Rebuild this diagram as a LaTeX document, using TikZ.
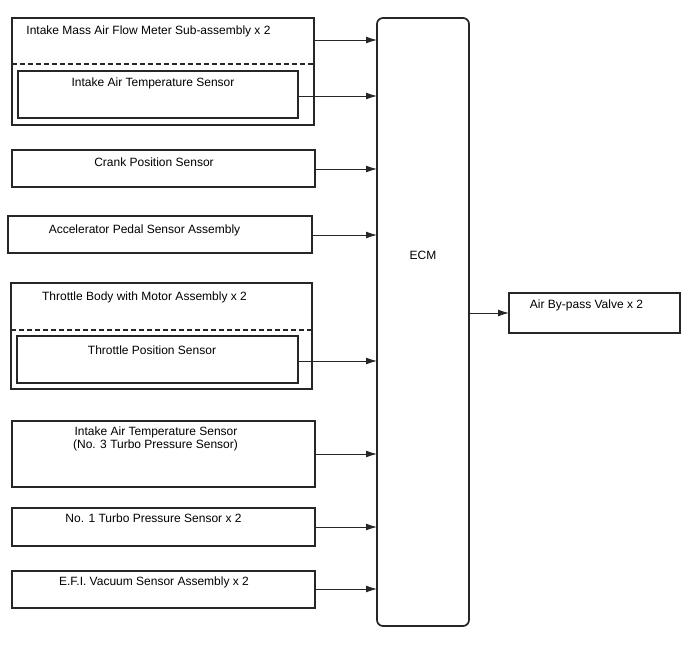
\documentclass[tikz,border=0pt]{standalone}
\usepackage{fontspec}
\setmainfont{Liberation Sans}
\usetikzlibrary{arrows.meta}
\begin{document}
\begin{tikzpicture}[x=1pt,y=-1pt,
  box/.style={draw=black!85,line width=1.5pt,rectangle,inner sep=0pt,outer sep=0pt,anchor=north west},
  lbl/.style={anchor=base,inner sep=0pt,font=\fontsize{12}{14.4}\selectfont},
  arr/.style={draw=black!85,line width=0.9pt,-{Latex[length=11pt,width=7pt]}},
  dsh/.style={draw=black!85,line width=1.4pt,dash pattern=on 5pt off 3pt}]
\useasboundingbox (0,0) rectangle (688,658);
\newcommand{\bx}[5]{\node[box,minimum width=#4pt-#2pt,minimum height=#5pt-#3pt] (#1) at (#2,#3) {};}
% boxes
\bx{maf}{12}{18}{314}{125}
\bx{iat}{18}{71}{298}{118}
\bx{ckp}{12}{150}{315}{187}
\bx{acc}{8}{216}{312}{253}
\bx{thr}{11}{283}{312}{389}
\bx{tps}{17}{336}{298}{383}
\bx{iat3}{12}{421}{315}{487}
\bx{tp1}{12}{508}{315}{546}
\bx{efi}{12}{571}{315}{608}
\bx{abv}{509}{293}{680}{333}
\node[box,line width=1.7pt,rounded corners=6pt,minimum width=92pt,minimum height=608pt] (ecm) at (377,18) {};
% dashed separators
\coordinate (d1) at (12,64);
\coordinate (d2) at (11,330);
\draw[dsh] (d1) -- (d1 -| maf.east);
\draw[dsh] (d2) -- (d2 -| thr.east);
% labels
\node[lbl] (tmaf) at (148.5,35) {Intake Mass Air Flow Meter Sub-assembly x 2};
\node[lbl] (tiat) at (153,87) {Intake Air Temperature Sensor};
\node[lbl] (tckp) at (154,166.5) {Crank Position Sensor};
\node[lbl] (tacc) at (144.5,233) {Accelerator Pedal Sensor Assembly};
\node[lbl] (tthr) at (144.5,300) {Throttle Body with Motor Assembly x 2};
\node[lbl] (ttps) at (152,354.5) {Throttle Position Sensor};
\node[lbl] (tiat3a) at (156,435) {Intake Air Temperature Sensor};
\node[lbl] (tiat3b) at (155.5,448.5) {(No. 3 Turbo Pressure Sensor)};
\node[lbl] (ttp1) at (153.5,522.5) {No. 1 Turbo Pressure Sensor x 2};
\node[lbl] (tefi) at (154,585) {E.F.I. Vacuum Sensor Assembly x 2};
\node[lbl] (tabv) at (586.5,308.5) {Air By-pass Valve x 2};
\node[lbl] (tecm) at (423,259) {ECM};
% arrows
\draw[arr] (maf.east |- 0,40) -- (ecm.west |- 0,40);
\draw[arr] (iat.east |- 0,96) -- (ecm.west |- 0,96);
\draw[arr] (ckp.east |- 0,169) -- (ecm.west |- 0,169);
\draw[arr] (acc.east |- 0,235) -- (ecm.west |- 0,235);
\draw[arr] (tps.east |- 0,361) -- (ecm.west |- 0,361);
\draw[arr] (iat3.east |- 0,454) -- (ecm.west |- 0,454);
\draw[arr] (tp1.east |- 0,527) -- (ecm.west |- 0,527);
\draw[arr] (efi.east |- 0,589) -- (ecm.west |- 0,589);
\draw[arr] (ecm.east |- 0,313) -- (abv.west |- 0,313);
\end{tikzpicture}
\end{document}
